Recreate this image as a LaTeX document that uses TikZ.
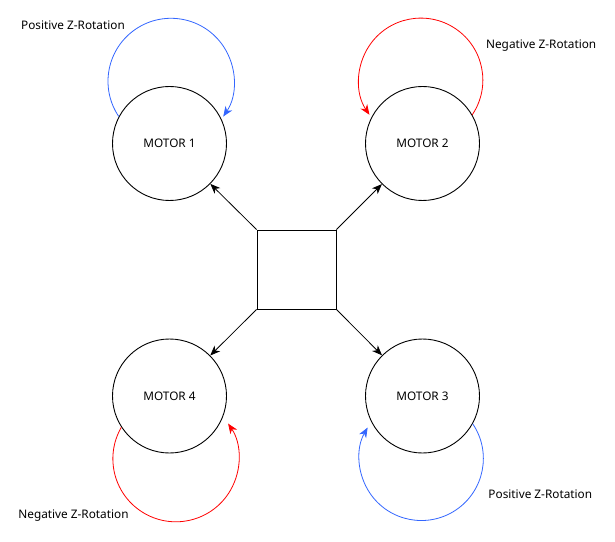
\documentclass[tikz,border=0pt]{standalone}
\usepackage{fontspec}
\setmainfont{Noto Sans}
\usetikzlibrary{arrows.meta}
\definecolor{posblue}{HTML}{3366FF}
\definecolor{negred}{HTML}{FF0000}
\begin{document}
\begin{tikzpicture}[x=1pt,y=1pt,
  font=\fontsize{11.8}{14}\selectfont,
  motor/.style={draw=black, line width=0.9pt, circle, minimum size=114pt, inner sep=0pt},
  hub/.style={draw=black, line width=0.9pt, rectangle, minimum size=79pt, inner sep=0pt},
  link/.style={draw=black, line width=0.8pt, -{Stealth[length=10pt,width=8pt,inset=3pt]}},
  spinpos/.style={line width=0.8pt, draw=posblue, -{Stealth[length=10pt,width=8pt,inset=3pt,posblue]}},
  spinneg/.style={line width=0.8pt, draw=negred, -{Stealth[length=10pt,width=8pt,inset=3pt,negred]}},
  tag/.style={inner sep=0pt}]
\path[use as bounding box] (0,0) rectangle (615,541);

% motors and central frame
\node[motor] (m1) at (169.5,397.5) {MOTOR 1};
\node[motor] (m2) at (422.5,397.5) {MOTOR 2};
\node[motor] (m3) at (422.5,145) {MOTOR 3};
\node[motor] (m4) at (169.5,145) {MOTOR 4};
\node[hub] (hub) at (296.5,271.5) {};

% arms from the frame to each motor
\draw[link] (hub.north west) -- (m1);
\draw[link] (hub.north east) -- (m2);
\draw[link] (hub.south east) -- (m3);
\draw[link] (hub.south west) -- (m4);

% rotation loops
\draw[spinpos] (m1.152) arc[start angle=214, end angle=-34, radius=63];
\draw[spinneg] (m2.30) arc[start angle=-34, end angle=214, radius=62];
\draw[spinpos] (m3.-29) arc[start angle=34, end angle=-210, radius=62];
\draw[spinneg] (m4.213) arc[start angle=150, end angle=394, radius=63];

% rotation labels
\node[tag] (l1) at (73,515.3) {Positive Z-Rotation};
\node[tag] (l2) at (541.2,495.3) {Negative Z-Rotation};
\node[tag] (l3) at (540.3,46.7) {Positive Z-Rotation};
\node[tag] (l4) at (73.5,25.3) {Negative Z-Rotation};
\end{tikzpicture}
\end{document}
